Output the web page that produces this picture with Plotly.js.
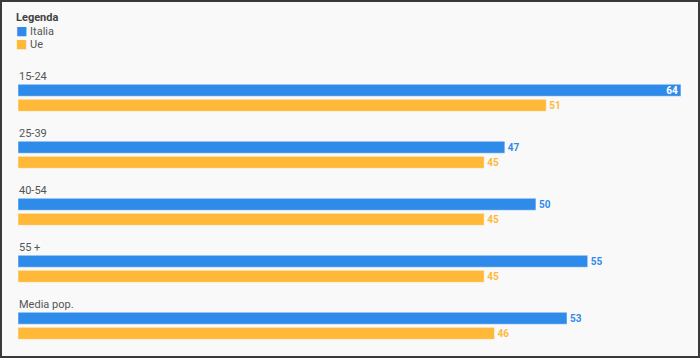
<!DOCTYPE html>
<html>
<head>
<meta charset="utf-8">
<script src="https://cdn.plot.ly/plotly-3.0.1.min.js"></script>
<style>
html,body{margin:0;padding:0;background:#fff;}
#wrap{width:700px;height:358px;box-sizing:border-box;border:2px solid #3a3a3a;background:#f9f9f9;}
#chart{width:696px;height:354px;}
</style>
</head>
<body>
<div id="wrap"><div id="chart"></div></div>
<script>
const categories = ["15-24", "25-39", "40-54", "55 +", "Media pop."];
const italia = [64, 47, 50, 55, 53];
const ue = [51, 45, 45, 45, 46];
const seriesNames = ["Italia", "Ue"];
const legendTitle = "Legenda";

const colors = ["#2f8be9", "#ffb837"];
// layout geometry (in group units)
const blueOff = 0.25, orangeOff = 0.515, barW = 0.21, labelOff = 0.01;
const idx = categories.map((c, i) => i);

function barTrace(vals, off, color, name) {
  const maxV = Math.max(...italia, ...ue);
  return {
    type: 'bar', orientation: 'h', name: name,
    x: vals, y: idx.map(i => i + off), width: barW,
    marker: {color: color, line: {color: 'rgba(255,255,255,0.45)', width: 1}},
    text: vals.map(String),
    textposition: vals.map(v => v === maxV ? 'inside' : 'outside'),
    insidetextanchor: 'end',
    textfont: {family: 'Roboto, sans-serif', size: 10, color: color, weight: 'bold'},
    insidetextfont: {family: 'Roboto, sans-serif', size: 10, color: '#ffffff', weight: 'bold'},
    outsidetextfont: {family: 'Roboto, sans-serif', size: 10, color: color, weight: 'bold'},
    cliponaxis: false, hoverinfo: 'skip', showlegend: false
  };
}

const data = [
  barTrace(italia, blueOff, colors[0], seriesNames[0]),
  barTrace(ue, orangeOff, colors[1], seriesNames[1])
];

const annotations = categories.map((c, i) => ({
  x: 0, y: i + labelOff, xref: 'x', yref: 'y', text: c, showarrow: false,
  xanchor: 'left', yanchor: 'middle', xshift: -1,
  font: {family: 'Roboto, sans-serif', size: 11, color: '#555'}
}));
annotations.push({
  x: 0, y: 1, xref: 'paper', yref: 'paper', xanchor: 'left', yanchor: 'top',
  xshift: -4, yshift: -7, showarrow: false, align: 'left',
  text: '<b>' + legendTitle + '</b>',
  font: {family: 'Roboto, sans-serif', size: 11, color: '#444'}
});
seriesNames.forEach((n, k) => annotations.push({
  x: 0, y: 1, xref: 'paper', yref: 'paper', xanchor: 'left', yanchor: 'top',
  xshift: -4, yshift: -20 - 13 * k, showarrow: false, align: 'left',
  text: '<span style="color:' + colors[k] + ';font-family:DejaVu Sans;font-size:12px">■</span> ' + n,
  font: {family: 'Roboto, sans-serif', size: 11, color: '#555'}
}));

// pixel mapping: group 0 label center at ~74px (plot coords), 57px per group
const pxPerGroup = 57, top0 = 74, H = 354;
const yTop = -top0 / pxPerGroup, yBot = (H - top0) / pxPerGroup;

const layout = {
  width: 696, height: 354,
  margin: {l: 16, r: 1, t: 0, b: 0},
  paper_bgcolor: '#f9f9f9', plot_bgcolor: '#f9f9f9',
  barmode: 'overlay', showlegend: false,
  uniformtext: {mode: 'show', minsize: 10},
  xaxis: {range: [0, 65.55], visible: false, fixedrange: true},
  yaxis: {range: [yBot, yTop], visible: false, fixedrange: true},
  annotations: annotations,
  font: {family: 'Roboto, sans-serif'}
};

Plotly.newPlot('chart', data, layout, {displayModeBar: false, staticPlot: true});
</script>
</body>
</html>
